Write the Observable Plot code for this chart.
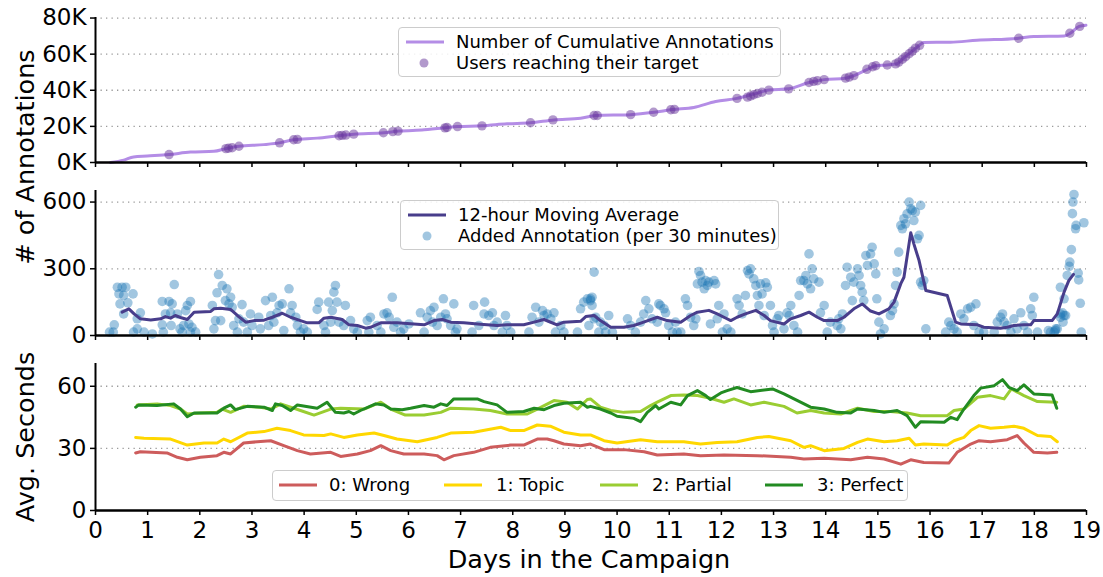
<!DOCTYPE html>
<html>
<head>
<meta charset="utf-8">
<script src="https://cdn.jsdelivr.net/npm/d3@7"></script>
<script src="https://cdn.jsdelivr.net/npm/@observablehq/plot@0.6"></script>
<style>
  html, body { margin: 0; padding: 0; background: #fff; }
  #wrap { position: relative; width: 1103px; height: 577px; overflow: hidden; font-family: "DejaVu Sans", sans-serif; color: #000; }
  .panel { position: absolute; left: 0; }
  .legend { position: absolute; background: rgba(255,255,255,0.85); border: 1px solid #cccccc; border-radius: 4px; box-sizing: border-box; }
  .legend .t { position: absolute; font-size: 18px; height: 22px; line-height: 22px; white-space: nowrap; }
  .legend svg { position: absolute; left: 0; top: 0; overflow: visible; }
  #titles { position: absolute; left: 0; top: 0; pointer-events: none; }
</style>
</head>
<body>
<div id="wrap"></div>
<script>
// ---------------- DATA ----------------
const dayTicks = [0,1,2,3,4,5,6,7,8,9,10,11,12,13,14,15,16,17,18,19];

// Panel 1: cumulative annotations (day, count)
const cumDays = [0.29,0.54,0.73,0.99,1.41,1.82,2.27,2.5,2.75,3.23,3.55,3.8,4.25,4.7,4.95,5.53,5.82,6.3,6.71,6.94,7.41,7.89,8.34,8.79,9.3,9.59,10.26,10.71,11.06,11.47,11.89,12.3,12.62,12.91,13.29,13.68,13.97,14.38,14.54,14.8,14.96,15.18,15.37,15.5,15.66,15.79,15.88,16.39,16.9,17.67,17.99,18.57,18.7,18.86,18.99];
const cumValues = [0,1300,3100,3600,4400,5800,6200,7700,9000,9900,11000,12600,13500,15000,15700,16500,17400,18100,19200,19900,20300,21400,22000,23600,24500,26000,26500,27800,29300,30500,33800,35500,37900,40100,40800,44300,45900,46700,48100,51600,53600,54000,54700,58000,61700,64800,66500,66600,67700,68700,69800,70100,71800,75400,76000];

// Users reaching their target (day, cumulative count)
const targetDays = [1.41,2.5,2.55,2.62,2.75,3.53,3.8,3.87,4.67,4.73,4.8,4.95,5.52,5.7,5.8,6.7,6.74,6.94,7.41,8.34,8.77,9.56,9.62,10.26,10.7,11.03,11.1,12.3,12.5,12.56,12.62,12.69,12.78,12.91,13.29,13.68,13.77,13.84,13.97,14.38,14.45,14.54,14.79,14.9,14.96,15.18,15.34,15.4,15.47,15.53,15.6,15.66,15.72,15.8,17.7,18.68,18.87];
const targetValues = [4400,7700,7900,8200,9000,10900,12600,12800,14800,15000,15200,15700,16500,17100,17400,19200,19400,19900,20300,22000,23600,26000,26000,26500,27800,29200,29400,35500,36200,36800,37500,38200,38900,40100,40800,44300,44900,45300,45900,46700,47300,48100,51600,53000,53600,54000,54600,55600,57200,58600,60200,61700,63300,64900,68800,71600,75400];

// Panel 2: 12-hour moving average (day, annotations)
const maDays = [0.51,0.64,0.74,0.86,1.06,1.25,1.34,1.44,1.53,1.63,1.76,1.89,2.21,2.27,2.4,2.59,2.72,2.88,3.04,3.23,3.39,3.58,3.74,3.93,4.06,4.28,4.38,4.51,4.73,4.86,5.02,5.18,5.27,5.47,5.78,6.3,6.49,6.65,6.81,7.06,7.38,7.7,7.89,8.21,8.41,8.6,8.85,8.98,9.3,9.4,9.56,9.68,9.88,10.13,10.32,10.51,10.77,10.96,11.22,11.41,11.54,11.76,11.92,12.05,12.18,12.3,12.46,12.66,12.82,12.94,13.2,13.33,13.52,13.68,13.84,13.97,14.22,14.35,14.54,14.7,14.86,15.02,15.21,15.31,15.44,15.5,15.63,15.69,15.79,15.92,16.33,16.49,16.59,16.91,17.03,17.35,17.48,17.61,17.8,17.93,17.99,18.34,18.44,18.57,18.66,18.75];
const maValues = [105,120,97,75,70,75,85,78,90,81,72,105,108,120,123,117,90,60,67,69,82,100,82,67,57,57,78,82,72,48,45,33,37,57,57,48,67,72,60,57,51,45,48,48,60,72,48,60,64,85,90,67,37,37,45,60,82,67,60,90,105,113,97,82,67,82,97,113,90,67,52,75,90,105,82,67,67,82,120,142,110,97,120,150,233,262,462,412,337,202,180,60,52,48,37,33,37,45,48,48,67,67,97,195,247,275];

// Added annotations per 30 minutes: [day, count]
const addedPoints = [
 [0.42,217],[0.51,217],[0.58,217],[0.45,187],[0.54,180],[0.72,187],[0.47,142],[0.62,147],[0.54,97],[0.36,48],[0.34,15],[0.27,15],[0.80,30],[0.86,102],[0.80,75],[0.93,15],[0.73,15],
 [1.09,7],[1.28,48],[1.28,153],[1.30,15],[1.41,153],[1.44,102],[1.45,45],[1.51,229],[1.47,142],[1.34,97],[1.57,97],[1.62,30],[1.66,15],[1.73,112],[1.76,135],[1.82,153],[1.79,52],[1.85,37],[1.82,15],[1.92,15],[1.69,45],
 [2.27,30],[2.33,192],[2.36,274],[2.43,225],[2.49,157],[2.52,210],[2.59,172],[2.56,142],[2.62,127],[2.30,67],[2.24,135],[2.40,67],[2.65,45],[2.72,15],[2.81,139],[2.75,75],[2.84,60],[2.91,15],[2.97,97],[3.00,45],
 [3.13,82],[3.16,30],[3.26,157],[3.32,45],[3.39,172],[3.42,60],[3.48,102],[3.52,135],[3.58,142],[3.36,90],[3.61,22],[3.71,210],[3.74,102],[3.77,135],[3.84,82],[3.87,45],[3.93,15],[3.99,30],[4.06,15],
 [4.28,150],[4.25,117],[4.38,45],[4.41,15],[4.47,150],[4.51,60],[4.54,112],[4.57,195],[4.60,225],[4.63,150],[4.67,60],[4.76,45],[4.79,135],[4.89,67],[4.95,30],[5.02,15],
 [5.21,67],[5.24,15],[5.27,82],[5.40,45],[5.47,15],[5.53,97],[5.59,102],[5.63,82],[5.69,172],[5.72,37],[5.78,60],[5.85,15],[5.91,30],[6.01,52],
 [6.23,102],[6.30,15],[6.36,82],[6.42,112],[6.46,60],[6.49,127],[6.55,45],[6.62,82],[6.67,165],[6.71,97],[6.74,75],[6.81,45],[6.87,142],[6.90,15],[6.93,30],
 [7.22,15],[7.25,135],[7.35,45],[7.45,97],[7.46,150],[7.54,90],[7.61,102],[7.64,45],[7.70,60],[7.80,15],[7.86,90],[7.89,45],[7.96,15],
 [8.31,15],[8.37,82],[8.44,127],[8.50,60],[8.57,112],[8.60,90],[8.66,97],[8.73,75],[8.79,102],[8.82,15],[8.92,45],[8.98,15],
 [9.24,15],[9.30,120],[9.36,150],[9.43,165],[9.49,157],[9.52,172],[9.56,285],[9.46,45],[9.59,82],[9.65,15],
 [9.49,165],[9.52,135],[9.56,75],[9.68,60],[9.75,45],[9.84,90],[9.91,15],[9.78,15],
 [10.20,75],[10.26,45],[10.35,15],[10.45,60],[10.51,97],[10.55,157],[10.61,120],[10.67,75],[10.77,60],[10.80,142],[10.83,135],[10.90,120],[10.93,102],[10.99,45],[11.06,15],[11.12,60],[11.15,15],[11.22,15],
 [11.31,165],[11.35,135],[11.41,82],[11.47,45],[11.51,75],[11.54,232],[11.57,288],[11.60,270],[11.63,240],[11.67,210],[11.73,225],[11.70,247],[11.76,240],[11.86,247],[11.89,232],[11.79,52],[11.92,75],[11.95,135],[12.02,15],[12.05,97],[12.11,30],[12.18,15],
 [12.30,165],[12.34,135],[12.40,97],[12.46,180],[12.50,292],[12.53,277],[12.56,300],[12.62,255],[12.66,225],[12.69,180],[12.72,135],[12.75,232],[12.78,187],[12.82,90],[12.85,237],[12.88,217],[12.94,135],[12.98,45],[13.01,15],[13.07,75],[13.10,90],
 [13.20,30],[13.26,102],[13.30,90],[13.33,135],[13.39,45],[13.46,15],[13.49,180],[13.52,247],[13.58,247],[13.62,270],[13.65,232],[13.68,367],[13.71,210],[13.74,300],[13.77,255],[13.87,240],[13.90,102],[13.97,135],[14.03,15],[14.09,60],[14.22,45],[14.25,75],[14.29,30],[14.32,97],
 [14.38,225],[14.41,307],[14.48,262],[14.51,157],[14.54,240],[14.61,300],[14.64,270],[14.67,225],[14.70,195],[14.73,157],[14.77,360],[14.80,315],[14.86,367],[14.89,397],[14.93,322],[14.96,277],[14.98,165],[15.02,60],[15.05,7],[15.12,30],
 [15.24,90],[15.28,112],[15.31,142],[15.34,225],[15.37,285],[15.40,375],[15.44,495],[15.47,480],[15.50,525],[15.53,502],[15.56,547],[15.60,600],[15.63,570],[15.66,562],[15.69,517],[15.72,555],[15.76,435],[15.79,450],[15.82,585],[15.85,225],[15.88,247],[15.92,30],[15.82,240],
 [16.30,15],[16.36,60],[16.40,45],[16.46,30],[16.52,15],[16.59,97],[16.65,75],[16.72,120],[16.78,127],[16.84,45],[16.88,142],[16.94,15],[17.03,15],[17.23,15],
 [17.29,60],[17.35,82],[17.39,97],[17.42,60],[17.48,45],[17.55,15],[17.61,75],[17.67,30],[17.74,102],[17.80,45],[17.87,15],[17.93,120],[17.96,90],[17.99,172],[18.06,15],
 [18.31,15],[18.38,15],[18.41,30],[18.44,30],[18.50,97],[18.54,102],[18.57,165],
 [18.76,634],[18.74,600],[18.73,548],[18.80,495],[18.79,480],[18.95,507],[18.71,386],[18.68,330],[18.67,311],[18.63,270],[18.84,280],[18.85,250],[18.50,217],[18.88,145],[18.57,90],[18.60,90],[18.50,82],[18.55,60],[18.40,22],[18.27,22],[18.90,15]
];

// Panel 3: average seconds per label: [day, seconds]
const wrongSeries = [[0.77,27.8],[0.86,28.4],[1.37,27.8],[1.57,25.7],[1.76,24.5],[2.01,25.7],[2.33,26.5],[2.46,28.1],[2.59,27.3],[2.84,32.6],[3.10,33.2],[3.36,33.7],[3.61,31.3],[3.87,28.9],[4.12,27.3],[4.51,28.1],[4.70,26.1],[5.02,27.3],[5.27,28.9],[5.47,31.3],[5.66,28.9],[5.91,27.3],[6.30,27.3],[6.55,26.5],[6.68,24.5],[6.87,26.5],[7.25,28.1],[7.57,30.5],[7.96,31.6],[8.21,31.6],[8.47,34.5],[8.66,34.5],[8.79,33.7],[8.98,32.1],[9.30,31.3],[9.49,32.1],[9.75,29.4],[10.13,29.4],[10.52,28.4],[10.77,26.8],[11.28,27.3],[11.60,26.5],[12.05,26.8],[12.69,26.5],[13.33,25.7],[13.58,24.9],[13.97,25.2],[14.48,24.5],[14.80,25.7],[15.12,24.9],[15.44,22.4],[15.63,24.5],[15.88,23.2],[16.36,22.9],[16.52,28.1],[16.78,32.1],[16.94,33.7],[17.16,33.2],[17.48,34.2],[17.67,36.2],[17.80,32.6],[17.99,28.1],[18.25,27.8],[18.43,28.1]];
const topicSeries = [[0.77,35.3],[0.93,34.9],[1.44,34.5],[1.76,31.6],[2.08,32.6],[2.33,32.6],[2.46,34.5],[2.59,33.2],[2.91,37.4],[3.23,38.1],[3.48,39.7],[3.74,38.6],[3.99,36.5],[4.38,36.2],[4.51,37.0],[4.76,35.3],[5.02,36.5],[5.34,37.4],[5.53,36.2],[5.78,34.5],[6.17,33.2],[6.55,35.3],[6.81,37.4],[7.25,37.8],[7.77,40.2],[7.96,38.6],[8.21,38.6],[8.47,41.3],[8.72,40.7],[8.98,37.8],[9.30,36.5],[9.49,36.5],[9.75,33.7],[10.00,32.6],[10.45,34.2],[10.77,33.2],[11.28,33.2],[11.60,32.1],[11.92,32.9],[12.30,33.2],[12.69,35.3],[12.91,35.7],[13.33,33.7],[13.58,30.5],[13.71,31.3],[13.97,28.9],[14.35,30.0],[14.61,32.9],[14.80,34.5],[15.12,33.2],[15.37,33.7],[15.60,34.9],[15.72,31.6],[15.88,32.1],[16.33,31.6],[16.46,33.7],[16.65,35.3],[16.78,38.6],[16.94,41.0],[17.16,39.7],[17.42,40.2],[17.61,40.7],[17.80,39.7],[18.06,36.2],[18.31,35.8],[18.44,33.2]];
const partialSeries = [[0.80,51.0],[1.18,51.5],[1.44,50.7],[1.63,49.0],[1.76,46.6],[2.01,47.1],[2.33,47.4],[2.43,49.0],[2.59,47.4],[2.84,50.3],[3.16,49.9],[3.36,49.0],[3.55,51.5],[3.74,49.9],[3.93,48.3],[4.19,46.1],[4.51,49.0],[4.70,49.4],[5.15,49.0],[5.47,52.3],[5.66,49.0],[5.94,46.1],[6.30,46.1],[6.62,47.4],[6.81,49.4],[7.25,49.0],[7.57,48.3],[7.89,46.6],[8.28,46.6],[8.47,49.0],[8.79,53.1],[9.04,52.3],[9.24,49.0],[9.43,53.6],[9.49,53.9],[9.68,49.9],[9.88,48.3],[10.13,47.4],[10.45,47.8],[10.64,50.7],[10.77,52.3],[11.03,55.5],[11.28,55.8],[11.54,55.5],[11.79,54.2],[12.05,52.3],[12.24,53.9],[12.56,51.0],[12.82,52.3],[13.20,50.3],[13.45,47.1],[13.71,48.3],[13.97,47.1],[14.29,46.6],[14.61,49.4],[14.93,47.8],[15.24,47.8],[15.56,47.1],[15.82,45.8],[16.33,45.8],[16.46,48.3],[16.65,49.0],[16.91,54.7],[17.16,55.5],[17.42,53.9],[17.56,58.7],[17.80,55.5],[18.06,52.6],[18.43,52.3]];
const perfectSeries = [[0.77,49.9],[0.83,51.0],[1.18,50.7],[1.50,51.5],[1.63,49.0],[1.76,45.3],[1.89,47.1],[2.33,47.1],[2.46,49.4],[2.59,51.0],[2.68,48.7],[2.91,50.3],[3.23,49.9],[3.39,48.3],[3.45,51.5],[3.58,50.7],[3.74,48.3],[3.87,51.0],[4.25,49.4],[4.44,52.3],[4.60,47.4],[4.76,47.1],[4.86,47.8],[4.95,46.6],[5.08,48.3],[5.37,51.5],[5.53,51.0],[5.66,49.0],[5.88,48.7],[6.04,49.4],[6.30,50.7],[6.49,49.9],[6.62,51.5],[6.74,50.7],[6.87,53.9],[7.32,53.9],[7.45,52.6],[7.70,51.0],[7.89,47.4],[8.21,47.8],[8.41,49.4],[8.60,48.7],[8.79,50.7],[8.98,51.8],[9.30,52.3],[9.43,49.9],[9.49,50.3],[9.68,49.0],[9.88,47.1],[10.00,45.5],[10.32,44.5],[10.45,42.9],[10.58,47.4],[10.74,50.7],[10.80,49.0],[11.03,52.3],[11.22,51.0],[11.35,55.5],[11.54,57.9],[11.70,55.5],[11.79,53.6],[11.99,56.8],[12.11,57.9],[12.30,59.4],[12.56,57.4],[12.98,58.7],[13.20,56.3],[13.46,53.1],[13.71,49.9],[13.97,49.0],[14.22,47.4],[14.48,47.1],[14.61,49.0],[14.93,48.3],[15.12,47.4],[15.37,48.3],[15.56,45.8],[15.72,40.2],[15.82,42.9],[16.27,42.6],[16.40,45.0],[16.52,43.9],[16.65,49.0],[16.84,55.5],[16.97,59.1],[17.23,60.3],[17.39,63.2],[17.51,59.5],[17.67,57.9],[17.80,60.7],[17.99,56.3],[18.34,55.8],[18.43,49.4]];

const seriesNames = ["0: Wrong", "1: Topic", "2: Partial", "3: Perfect"];
const seriesColors = ["#cd5c5c", "#ffd700", "#9acd32", "#228b22"];

// ---------------- BUILD ----------------
const FONT = "DejaVu Sans";
const wrap = document.getElementById("wrap");

function panel(cfg) {
  return Plot.plot({
    width: 1103, height: cfg.height,
    marginLeft: 95, marginRight: 17, marginTop: cfg.mt, marginBottom: cfg.mb,
    style: {fontFamily: FONT, fontSize: "23px", color: "#000", background: "transparent", overflow: "visible"},
    x: {domain: [0, 19]},
    y: {domain: cfg.yDomain},
    marks: [
      Plot.ruleY(cfg.grid, {stroke: "#9a9a9a", strokeWidth: 1.3, strokeDasharray: "1.3,4.2"}),
      ...cfg.marks,
      Plot.axisY({ticks: cfg.yTicks, tickFormat: cfg.yFormat, tickSize: 5, tickPadding: 4, fontSize: 23, label: null, strokeWidth: 1.5}),
      Plot.axisX({ticks: dayTicks, tickFormat: cfg.xLabels ? (d => String(d)) : (() => ""), tickSize: 5, tickPadding: 6, fontSize: 23, label: null, strokeWidth: 1.5}),
      Plot.ruleX([0], {stroke: "#000", strokeWidth: 2}),
      Plot.ruleY([0], {stroke: "#000", strokeWidth: 2.5})
    ]
  });
}

const cumData = cumDays.map((d, i) => ({day: d, value: cumValues[i]}));
const tgtData = targetDays.map((d, i) => ({day: d, value: targetValues[i]}));
const maData = maDays.map((d, i) => ({day: d, value: maValues[i]}));
const addedData = addedPoints.map(([d, v]) => ({day: d, value: v}));
const secData = [wrongSeries, topicSeries, partialSeries, perfectSeries]
  .flatMap((s, k) => s.map(([d, v]) => ({day: d, value: v, series: seriesNames[k]})));

const p1 = panel({
  height: 177, mt: 17, mb: 15, yDomain: [0, 80300],
  grid: [20000, 40000, 60000, 80000], yTicks: [0, 20000, 40000, 60000, 80000],
  yFormat: d => (d / 1000) + "K", xLabels: false,
  marks: [
    Plot.line(cumData, {x: "day", y: "value", stroke: "#b48de6", strokeWidth: 3, curve: "monotone-x"}),
    Plot.dot(tgtData, {x: "day", y: "value", r: 4.7, fill: "#663399", fillOpacity: 0.5, stroke: "none"})
  ]
});
const p2 = panel({
  height: 173, mt: 13, mb: 15, yDomain: [0, 652],
  grid: [300, 600], yTicks: [0, 300, 600], yFormat: d => String(d), xLabels: false,
  marks: [
    Plot.dot(addedData, {x: "day", y: "value", r: 4.8, fill: "#1f77b4", fillOpacity: 0.42, stroke: "none"}),
    Plot.line(maData, {x: "day", y: "value", stroke: "#483d8b", strokeWidth: 3})
  ]
});
const p3 = panel({
  height: 227, mt: 13, mb: 67, yDomain: [0, 71],
  grid: [30, 60], yTicks: [0, 30, 60], yFormat: d => String(d), xLabels: true,
  marks: [
    Plot.line(secData, {x: "day", y: "value", z: "series", stroke: d => seriesColors[seriesNames.indexOf(d.series)], strokeWidth: 3})
  ]
});

[[p1, 0], [p2, 177], [p3, 350]].forEach(([p, top]) => {
  const div = document.createElement("div");
  div.className = "panel";
  div.style.top = top + "px";
  div.appendChild(p);
  wrap.appendChild(div);
});

// Axis titles
const titles = d3.select(wrap).append("svg").attr("id", "titles").attr("width", 1103).attr("height", 577)
  .style("font-family", FONT);
titles.append("text").attr("transform", "translate(34,157) rotate(-90)").attr("text-anchor", "middle")
  .attr("font-size", 25.5).text("# of Annotations");
titles.append("text").attr("transform", "translate(34,437) rotate(-90)").attr("text-anchor", "middle")
  .attr("font-size", 25.5).text("Avg. Seconds");
titles.append("text").attr("x", 589).attr("y", 568).attr("text-anchor", "middle")
  .attr("font-size", 25.5).text("Days in the Campaign");

// Legends
function legend(box, items) {
  const lg = document.createElement("div");
  lg.className = "legend";
  Object.assign(lg.style, {left: box.x + "px", top: box.y + "px", width: box.w + "px", height: box.h + "px"});
  const svg = d3.select(lg).append("svg").attr("width", box.w).attr("height", box.h);
  items.forEach(it => {
    if (it.kind === "line") {
      svg.append("line").attr("x1", it.sx).attr("x2", it.sx + 38).attr("y1", it.sy).attr("y2", it.sy)
        .attr("stroke", it.color).attr("stroke-width", 3);
    } else {
      svg.append("circle").attr("cx", it.sx + 19).attr("cy", it.sy).attr("r", 4.5)
        .attr("fill", it.color).attr("fill-opacity", it.opacity);
    }
    const t = document.createElement("div");
    t.className = "t";
    t.style.left = it.tx + "px";
    t.style.top = (it.sy - 11) + "px";
    t.textContent = it.label;
    lg.appendChild(t);
  });
  wrap.appendChild(lg);
}
legend({x: 398, y: 27, w: 383, h: 50}, [
  {kind: "line", color: "#b48de6", sx: 7, sy: 14, tx: 57, label: "Number of Cumulative Annotations"},
  {kind: "dot", color: "#663399", opacity: 0.5, sx: 6, sy: 35, tx: 57, label: "Users reaching their target"}
]);
legend({x: 400, y: 200, w: 379, h: 50}, [
  {kind: "line", color: "#483d8b", sx: 7, sy: 14, tx: 57, label: "12-hour Moving Average"},
  {kind: "dot", color: "#1f77b4", opacity: 0.42, sx: 7, sy: 35, tx: 57, label: "Added Annotation (per 30 minutes)"}
]);
legend({x: 272, y: 470, w: 636, h: 31}, seriesNames.map((n, k) => ({
  kind: "line", color: seriesColors[k], sx: [6, 171, 327, 492][k], sy: 14, tx: [56, 223, 379, 544][k], label: n
})));
</script>
</body>
</html>
